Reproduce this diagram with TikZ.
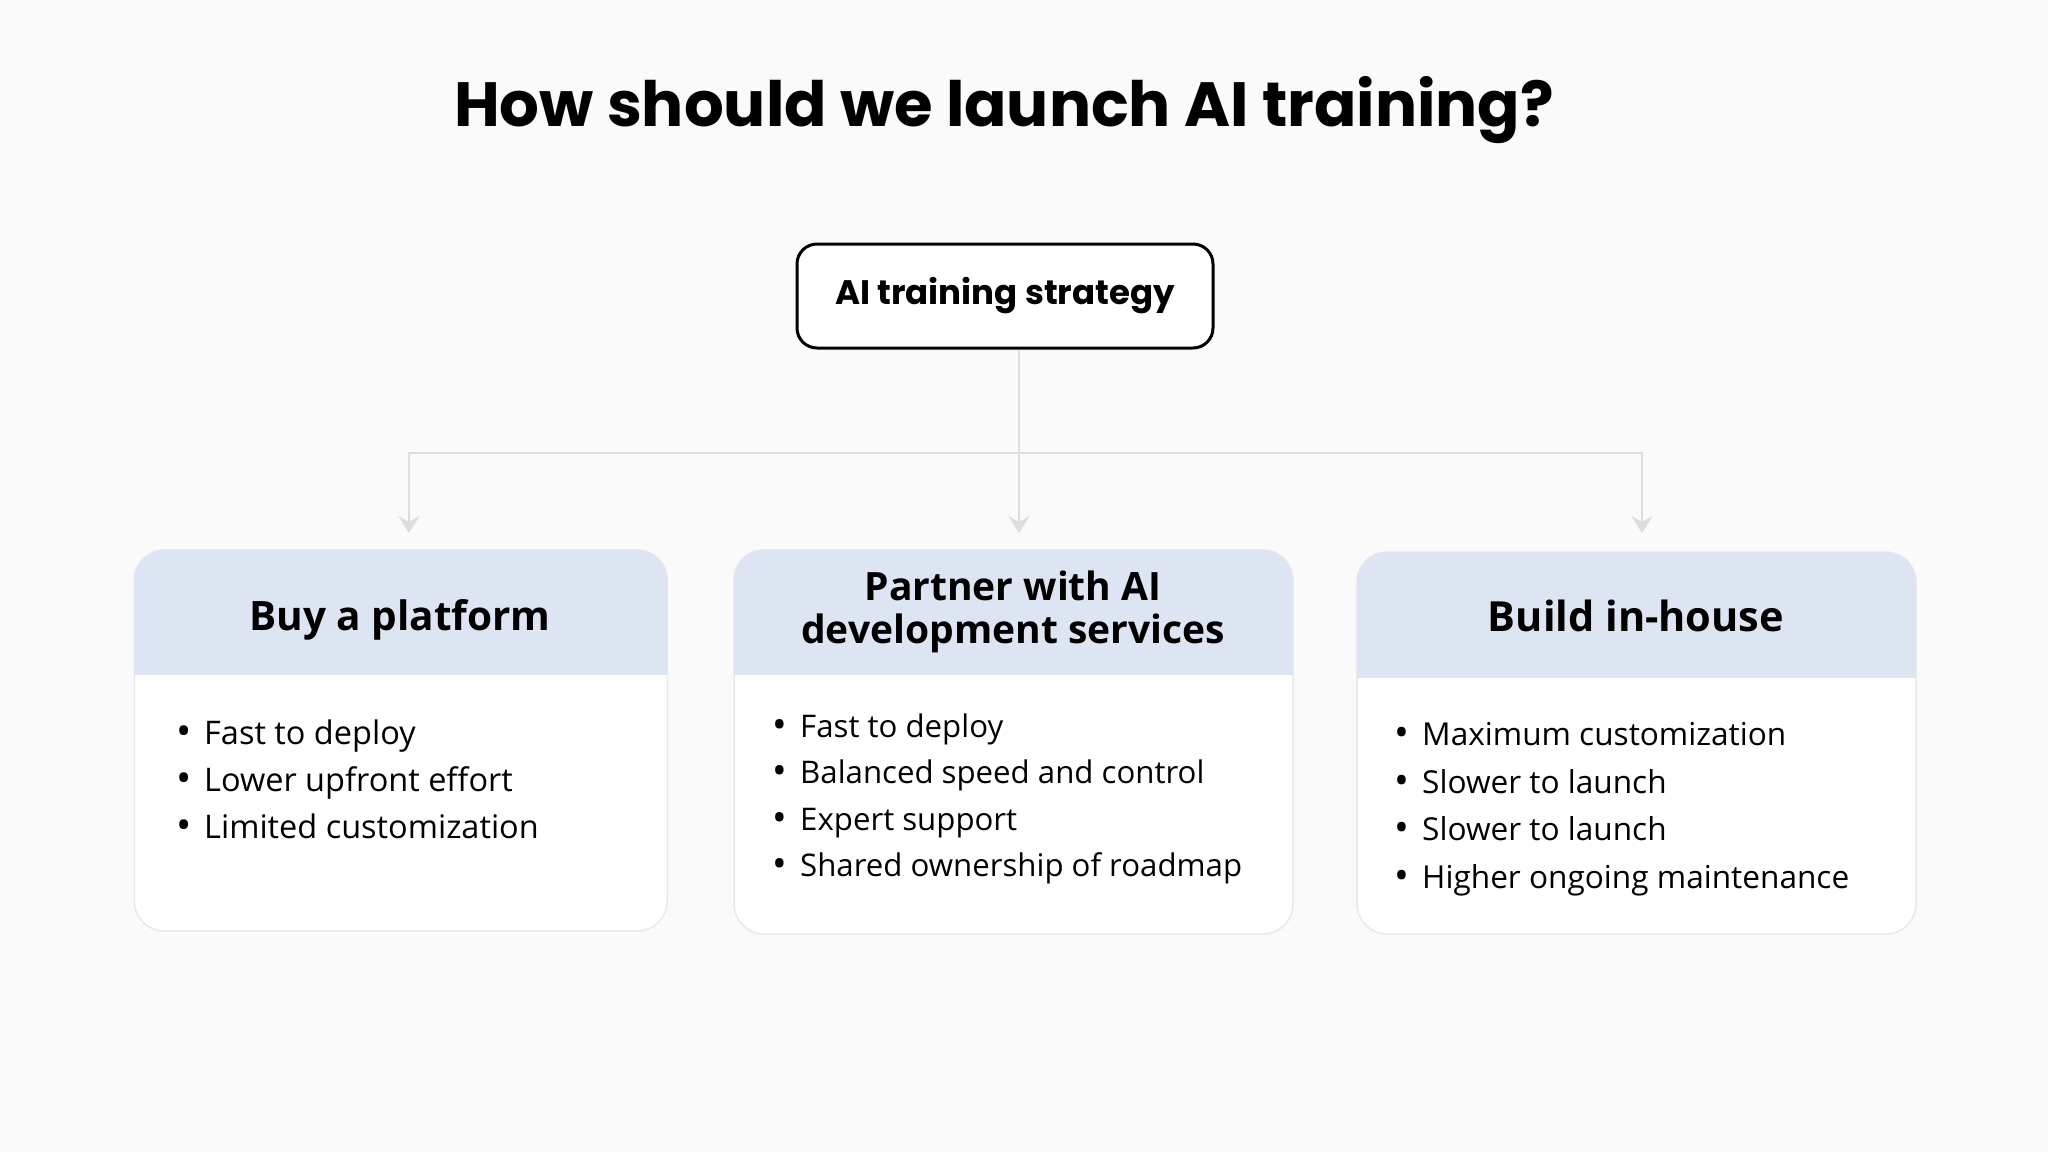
\documentclass[tikz,border=0pt]{standalone}
\usepackage{fontspec}
\setmainfont{Open Sans}
\newfontfamily\poppins{Poppins}
\usetikzlibrary{arrows.meta,calc}
\definecolor{bgc}{HTML}{FAFAFB}
\definecolor{headfill}{HTML}{DDE4F2}
\definecolor{cardline}{HTML}{E8E9EE}
\definecolor{connc}{HTML}{DCDDE0}
\newcommand{\bul}{\makebox[28pt][l]{\raisebox{-1pt}{\scalebox{1.25}{•}}}}
\begin{document}
\begin{tikzpicture}[x=1pt,y=-1pt,
  cardbox/.style={draw=cardline, line width=1.5pt, fill=white, rounded corners=30pt, inner sep=0pt, outer sep=0pt},
  headtxt/.style={font=\bfseries\fontsize{40.5}{43}\selectfont, align=center, text=black},
  listtxt/.style={font=\fontsize{32}{47}\selectfont, align=left, anchor=west, inner sep=0pt, text=black},
  conn/.style={draw=connc, line width=2pt},
  arr/.style={conn, -{Stealth[length=17pt,width=21pt,inset=6pt]}, shorten >=17pt}]
\fill[bgc] (0,0) rectangle (2048,1152);
\useasboundingbox (0,0) rectangle (2048,1152);

% title
\node[font=\poppins\bfseries\fontsize{62.5}{66}\selectfont] (title) at (1004,110) {How should we launch AI training?};

% root box
\node[draw=black, line width=3pt, rounded corners=20pt, fill=white, minimum width=416pt, minimum height=104pt,
  font=\poppins\bfseries\fontsize{34}{40}\selectfont] (strat) at (1005,296) {AI training strategy};

% cards
\node[cardbox, minimum width=533pt, minimum height=381pt] (c1) at (400.75,740.5) {};
\node[cardbox, minimum width=559pt, minimum height=384pt] (c2) at (1013.5,742) {};
\node[cardbox, minimum width=559pt, minimum height=382pt] (c3) at (1636.5,743) {};

\begin{scope}
  \clip[rounded corners=30pt] (c1.south west) rectangle (c1.north east);
  \fill[headfill] (c1.north west) rectangle (c1.east |- 0,675);
\end{scope}
\begin{scope}
  \clip[rounded corners=30pt] (c2.south west) rectangle (c2.north east);
  \fill[headfill] (c2.north west) rectangle (c2.east |- 0,675);
\end{scope}
\begin{scope}
  \clip[rounded corners=30pt] (c3.south west) rectangle (c3.north east);
  \fill[headfill] (c3.north west) rectangle (c3.east |- 0,678);
\end{scope}

% headers
\node[headtxt] (h1) at (400,620) {Buy a platform};
\node[headtxt, font=\bfseries\fontsize{39}{43}\selectfont] (h2) at (1013,612) {Partner with AI\\development services};
\node[headtxt, font=\bfseries\fontsize{41.5}{43}\selectfont] (h3) at (1636,616) {Build in-house};

% lists
\node[listtxt, font=\fontsize{32.5}{47}\selectfont] (l1) at (176,780) {\bul Fast to deploy\\\bul Lower upfront effort\\\bul Limited customization};
\node[listtxt, font=\fontsize{31.2}{46.5}\selectfont] (l2) at (772,799) {\bul Fast to deploy\\\bul Balanced speed and control\\\bul Expert support\\\bul Shared ownership of roadmap};
\node[listtxt, font=\fontsize{31.6}{47.5}\selectfont] (l3) at (1394,809) {\bul Maximum customization\\\bul Slower to launch\\\bul Slower to launch\\\bul Higher ongoing maintenance};

% connectors
\coordinate (t1) at (409,550);
\coordinate (t2) at (1019,550);
\coordinate (t3) at (1642,550);
\coordinate (j) at (1019,453);
\draw[arr] (strat.south -| t2) -- (t2);
\draw[arr] (j) -| (t1);
\draw[arr] (j) -| (t3);
\end{tikzpicture}
\end{document}
